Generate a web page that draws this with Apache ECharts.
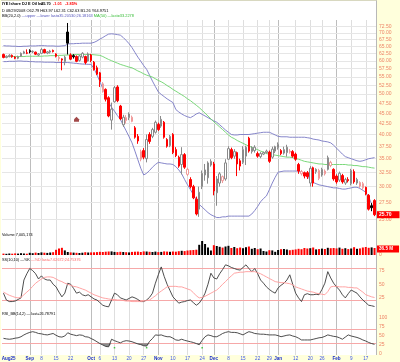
<!DOCTYPE html>
<html><head><meta charset="utf-8">
<script src="https://cdn.jsdelivr.net/npm/echarts@6/dist/echarts.min.js"></script>
<style>
html,body{margin:0;padding:0;background:#ffffdc;}
#bg{position:absolute;left:1px;top:0;width:376px;height:355px;background:#fff;border-right:1px solid #b8b8b8;border-top:1px solid #d8d8c0;box-sizing:border-box;}
#c{position:absolute;left:0;top:0;width:400px;height:362px;}
</style>
</head><body><div id="bg"></div><div id="c"></div>
<script>
const dates = ['8/19','8/20','8/21','8/22','8/25','8/26','8/27','8/28','8/29',
'9/2','9/3','9/4','9/5','9/8','9/9','9/10','9/11','9/12','9/15','9/16','9/17','9/18','9/19','9/22','9/23','9/24','9/25','9/26','9/29','9/30',
'10/1','10/2','10/3','10/6','10/7','10/8','10/9','10/10','10/13','10/14','10/15','10/16','10/17','10/20','10/21','10/22','10/23','10/24','10/27','10/28','10/29','10/30','10/31',
'11/3','11/4','11/5','11/6','11/7','11/10','11/11','11/12','11/13','11/14','11/17','11/18','11/19','11/20','11/21','11/24','11/25','11/26','11/28',
'12/1','12/2','12/3','12/4','12/5','12/8','12/9','12/10','12/11','12/12','12/15','12/16','12/17','12/18','12/19','12/22','12/23','12/24','12/26','12/29','12/30','12/31',
'1/2','1/5','1/6','1/7','1/8','1/9','1/12','1/13','1/14','1/15','1/16','1/20','1/21','1/22','1/23','1/26','1/27','1/28','1/29','1/30',
'2/2','2/3','2/4','2/5','2/6','2/9','2/10','2/11','2/12','2/13','2/17','2/18','2/19','2/20'];

const open = [62.2,61.2,61.5,61.9,61.3,60.9,61.6,62.6,62.79,
63.5,63.1,63.0,62.0,62.6,63.9,62.7,63.0,63.6,62.4,60.8,60.7,59.8,70.4,62.0,61.8,61.5,60.2,61.3,61.5,60.0,
62.0,59.6,57.8,56.2,50.9,51.3,49.0,43.3,47.9,52.0,46.8,42.2,43.2,43.9,43.0,41.5,39.6,34.9,36.6,35.0,40.0,39.6,40.5,
42.3,41.9,42.8,38.9,37.6,40.0,36.8,35.3,33.9,35.8,32.1,31.2,30.0,28.0,26.5,30.0,32.0,31.5,33.8,
34.0,29.0,30.6,31.0,31.3,34.9,36.8,35.5,36.2,34.6,34.3,35.5,39.2,36.4,36.6,36.0,35.4,35.9,36.2,36.3,35.3,36.5,
37.2,36.6,36.1,36.2,36.3,36.4,35.9,33.9,32.2,32.4,32.4,30.6,33.3,32.6,31.4,32.0,32.2,33.0,33.7,33.0,
31.8,31.1,31.9,30.6,31.2,30.5,32.6,30.6,30.1,29.8,29.9,28.6,27.0,27.8];

const high = [62.5,61.9,62.3,62.2,61.6,61.8,62.9,63.5,63.97,
64.0,63.6,63.2,62.7,64.4,64.2,63.4,63.8,63.9,62.6,61.7,60.9,61.8,74.0,62.6,62.3,61.9,62.1,63.0,61.8,62.9,
62.4,60.0,58.5,56.5,53.4,51.6,49.4,47.7,52.3,52.5,47.1,44.6,44.5,45.2,44.4,41.9,40.1,36.8,37.1,40.0,40.5,41.5,43.2,
42.7,44.3,43.1,39.2,39.9,40.3,37.3,35.6,37.3,36.1,33.3,31.6,30.3,28.4,30.0,32.8,34.0,34.5,34.9,
34.4,31.8,32.5,31.9,34.9,37.5,37.2,36.9,36.4,35.0,37.5,37.6,39.5,37.5,37.7,36.4,36.3,36.4,36.8,36.6,37.4,37.6,
38.3,36.9,37.4,37.8,36.9,36.7,36.2,34.2,32.9,32.6,32.7,33.6,33.5,33.2,33.1,33.3,33.0,35.6,34.6,33.2,
32.1,32.6,32.2,31.5,31.6,33.1,33.0,31.5,30.9,30.8,30.0,28.8,27.4,28.0];

const low = [60.9,60.9,61.2,61.1,60.6,60.6,61.4,62.3,62.31,
62.6,62.7,62.0,61.6,62.4,62.6,62.3,62.5,62.9,61.2,59.9,57.0,58.6,62.2,60.3,60.8,59.6,59.8,60.9,58.9,59.8,
59.6,56.9,55.5,52.0,50.4,48.0,44.0,41.1,47.7,47.8,43.3,41.7,42.5,43.3,42.8,39.1,38.0,34.5,34.9,34.3,38.0,39.2,40.2,
40.8,41.5,39.1,37.2,37.3,35.9,35.3,33.3,32.1,33.1,31.8,29.7,28.0,25.6,25.4,29.6,31.0,30.5,33.5,
28.6,27.0,30.0,30.6,31.0,34.8,34.9,35.0,31.8,32.8,34.0,33.8,36.2,36.0,36.2,35.2,35.1,35.7,36.0,34.2,35.0,36.1,
36.8,35.7,35.8,35.4,36.0,35.2,34.6,32.2,31.9,31.4,31.3,30.0,30.0,32.2,31.1,31.7,31.9,32.8,33.4,31.0,
30.5,30.8,30.5,30.3,30.7,30.2,30.5,30.3,29.8,29.5,28.6,26.3,26.2,25.5];

const close = [61.2,61.6,61.9,61.4,60.9,61.5,62.6,63.1,62.63,
63.2,63.3,62.3,62.4,63.9,62.8,63.1,63.4,63.2,61.6,61.2,60.3,61.3,66.2,60.6,61.4,59.9,61.7,62.6,59.5,62.4,
60.2,57.2,55.8,53.6,52.9,48.6,44.3,46.0,51.8,48.2,43.6,44.0,43.9,44.8,44.0,39.4,38.6,36.4,35.3,38.9,38.5,41.1,42.8,
41.1,43.5,39.4,37.5,39.6,36.2,35.6,33.6,35.8,33.4,33.0,30.0,28.2,25.8,29.1,32.3,32.9,34.2,34.5,
29.3,31.3,32.2,31.7,34.2,37.0,35.2,36.4,34.0,33.6,36.8,37.3,36.5,37.1,37.3,35.5,36.0,36.2,36.5,34.5,36.9,37.4,
37.9,36.0,36.8,37.3,36.5,35.5,34.9,32.7,32.6,31.8,31.7,33.2,30.6,33.0,32.8,33.0,32.7,35.2,34.3,31.3,
30.8,32.3,30.8,31.2,31.0,32.8,30.8,31.2,30.7,30.5,28.8,26.5,26.71,25.70];

const bbUpper = [65.3,65.2,65.2,65.1,65.1,65.0,65.0,65.1,65.1,65.2,65.2,65.2,65.3,
65.3,65.3,65.2,65.2,65.2,65.1,65.1,65.2,65.3,
65.9,66.0,66.0,66.1,66.1,66.2,66.2,66.2,
66.2,66.5,67.0,67.7, 68.3,69.0,69.6, 69.7,69.6,69.4,69.2, 68.3,67.2,66.0,64.6,
62.9,61.3,59.9,58.5,57.3, 55.5,53.7,52.1,50.6, 49.9,49.3,48.7,48.2,47.7,
45.9,45.3,44.8,44.4,44.1,43.9, 44.3,44.8,45.1, 44.7,44.3,43.9,43.5,43.1,42.8,
42.2,41.6,41.0,40.5,40.0, 39.9,39.9,40.0,40.0,40.0,40.0, 40.1,40.2,40.3,40.4,40.5,40.5,40.5,
40.2,39.9,39.6, 39.5,39.5,39.5,39.4,39.4,39.4,39.4,39.4,39.4,
39.3,39.2,39.0,38.9,38.8,38.6,38.5,38.4,38.2, 37.7,37.1,36.5,35.9,35.4,
35.2,35.0,34.8,34.6,34.5, 34.6,34.8,35.0,35.1,35.21];

const bbLower = [59.8,59.8,59.9,59.9,59.9,60.0,60.0,59.9,59.9,59.8,59.8,59.7,59.7,
59.7,59.6,59.6,59.6,59.6,59.5,59.5,59.5,59.5,
59.5,59.4,59.3,59.2,59.1,59.0,59.0,58.9,
58.9,57.5,55.6,53.6, 51.5,49.6,47.7, 46.5,45.5,44.4,43.5, 42.1,40.8,39.5,38.2,
36.5,34.8,33.2,32.0,32.3, 32.8,33.4,33.9,34.3, 34.2,34.1,34.0,34.0,33.9,
33.5,32.9,32.2,31.2,30.3,29.5, 28.7,27.9,27.2, 26.8,26.4,26.0,25.7,25.5,25.3,
25.3,25.4,25.4,25.5,25.5, 25.5,25.5,25.5,25.5,25.5,25.5, 25.8,26.3,26.9,27.6,28.1,28.5,29.5,
30.6,31.6,32.5, 32.6,32.7,32.7,32.7,32.7,32.7,32.7,32.5,32.2,
31.7,31.2,30.7,30.5,30.3,30.2,30.1,30.0,29.9, 29.8,29.8,29.7,29.6,29.6,
29.7,29.8,29.9,29.9,29.7, 29.4,29.1,28.3,27.3,26.18];

const ma50 = [61.4,61.4,61.5,61.5,61.5,61.5,61.5,61.5,61.6,61.6,61.6,61.6,61.6,
61.6,61.7,61.7,61.8,61.8,61.8,61.9,61.9,62.0,
62.0,62.1,62.1,62.2,62.2,62.2,62.2,62.2,
62.2,62.1,62.0,61.9, 61.5,61.0,60.5, 60.1,59.7,59.3,58.9, 58.6,58.3,58.0,57.8,
57.3,56.8,56.4,55.9,55.5, 55.2,54.9,54.4,53.9, 53.5,53.0,52.4,51.9,51.3,
50.8,50.3,49.8,49.3,48.7,48.2, 47.6,47.0,46.4, 45.7,45.0,44.3,43.6,42.9,42.3,
41.7,41.1,40.5,39.9,39.4, 39.1,38.7,38.4,38.1,37.8,37.5, 37.3,37.0,36.8,36.5,36.3,36.0,35.9,
35.8,35.7,35.6, 35.5,35.4,35.3,35.3,35.2,35.0,34.9,34.7,34.5,
34.4,34.3,34.2,34.1,34.0,34.0,33.9,33.9,33.9, 33.9,33.9,33.9,33.9,33.9,
33.8,33.8,33.7,33.7,33.6, 33.5,33.5,33.4,33.3,33.23];

const volumeM = [1.4,1.2,1.5,1.3,1.6,1.4,1.8,1.5,1.3,
2.2,1.8,2.4,2.0,2.6,2.3,2.1,2.5,2.8,5.2,6.5,7.2,4.6,
3.0,2.6,2.4,2.2,2.0,2.3,2.8,2.5,
2.6,2.7,2.9,3.2,3.0,3.3,3.5,3.6,3.1,2.9,3.2,
3.0,2.8,2.6,3.1,3.3,3.4,3.0,3.6,3.5,3.2,3.0,3.4,
2.9,3.1,3.6,3.4,3.2,3.5,3.3,3.8,4.2,3.9,4.5,4.8,5.0,5.3,
10.2,14.0,11.0,7.5,
4.5,9.8,9.0,8.2,7.4,8.5,9.2,7.0,8.0,6.8,
7.5,6.8,7.8,8.5,6.2,7.0,5.8,6.5,4.0,3.5,
4.8,4.6,3.2,5.0,5.8,6.0,5.5,4.8,5.2,5.6,
6.2,5.8,7.0,6.5,6.8,7.5,5.6,5.9,6.4,6.0,
7.2,6.8,7.0,6.6,7.4,6.2,6.8,5.9,6.5,7.8,
6.2,6.6,7.5,8.0,7.2,7.6,7.0];

const stochK = [33,20,17,17,18,21,24,58,70,80,76,70,60,66,60,58,58,50,45,35,26,33,52,50,42,33,35,30,28,30,
26,22,20,15,10,8,7,20,33,30,24,22,20,23,26,24,21,17,17,20,25,33,52,
68,83,65,50,38,26,20,14,16,17,19,20,15,10,14,22,33,50,71,
62,60,70,78,87,85,82,80,78,77,82,87,80,74,80,70,58,52,45,40,36,33,
43,48,52,58,68,50,33,24,17,30,32,30,30,31,30,40,52,74,62,52,
45,39,30,24,32,39,36,33,26,20,15,10,9,7.63];

const stochD = [35,32,29,27,25,24,25,30,35,40,46,52,56,60,63,64,64,63,60,57,55,52,50,48,46,45,43,41,39,36,
33,30,28,26,24,23,22,21,21,20,20,19,18,18,17,17,17,17,18,19,20,24,28,
33,37,41,45,46,46,46,45,45,43,41,39,34,28,24,25,27,30,33,
36,39,44,50,55,61,66,71,72,73,73,74,74,74,74,72,70,67,64,61,58,55,
54,53,53,52,51,49,45,43,41,39,37,36,35,33,32,31,30,36,45,46,
46,45,45,45,44,44,43,43,39,35,30,28,26,24.75];

const rsi = [43.5,42,41,42,44,45,48,53,57,60,62,60,57,56,54,53,55,57,52,48,47,50,59,55,53,51,53,52,48,47,
43,39,34,29,25,21,20,41,37,34,31,35,37,36,34,31,28,26,23,22,35,43,53,
52,53,50,48,48,44,39,38,41,38,36,34,32,29,26,38,48,53,51,
48,48,52,57,60,62,60,60,59,56,53,58,62,60,57,56,55,55,54,53,53,53,
51,48,50,52,53,50,48,44,39,39,39,39,41,43,45,46,49,53,51,49,
48,45,41,47,53,50,48,46,43,39,36,32,29,26.8];

const markerPoints = [['9/24', 43.5]];
const rsiSignals = [['10/13', 17.5], ['10/28', 17.5], ['11/24', 17.5]];

const tickDates = ['8/25','9/2','9/8','9/15','9/22','10/1','10/6','10/13','10/20','10/27','11/3','11/10','11/17','11/24','12/1','12/8','12/15','12/22','12/29','1/2','1/12','1/20','1/26','2/2','2/9','2/17'];
const tickLabels = ['Aug25','Sep','8','15','22','Oct','6','13','20','27','Nov','10','17','24','Dec','8','15','22','29','Jan','12','20','26','Feb','9','17'];
const monthTicks = ['9/2','10/1','11/3','12/1','1/2','2/2'];
const priceTicks = [25,27.5,30,32.5,35,37.5,40,42.5,45,47.5,50,52.5,55,57.5,60,62.5,65,67.5,70,72.5];
const ssTicks = [25,50,75];
const ssLines = [80,20];
const rsiTicks = [0,25,50,75,100];
const rsiLines = [70,30];
const rsiOversold = 30;

const FONT = 'Liberation Sans';
const LBL = '#ee8466';
const chart = echarts.init(document.getElementById('c'));
const N = dates.length;
const isRed = close.map((c, i) => i > 0 ? c < close[i - 1] : c < open[i]);
const candleData = dates.map((d, i) => {
  const hollow = close[i] >= open[i];
  const c = isRed[i] ? (hollow ? '#f09a9a' : '#ff0000') : (hollow ? '#8a8a8a' : '#000000');
  const fill = hollow ? '#ffffff' : c;
  return {value: [open[i], close[i], low[i], high[i]],
    itemStyle: {color: fill, color0: fill, borderColor: c, borderColor0: c, borderWidth: 1}};
});
const volData = volumeM.map((v, i) => ({value: v, itemStyle: {color: isRed[i] ? '#ff0000' : '#000000'}}));
const rsiFloor = rsi.map(v => Math.min(v, rsiOversold));
const rsiGap = rsiFloor.map(v => rsiOversold - v);

const vLines = () => tickDates.map(d => ({xAxis: d,
  lineStyle: {color: monthTicks.includes(d) ? '#bdbdbd' : '#dedede', width: 1, type: 'solid'}, label: {show: false}}));
const hLabel = (v, txt, color) => ({yAxis: v, lineStyle: {color: color || 'rgba(0,0,0,0)', width: 1, type: 'solid'},
  label: {show: true, position: 'end', formatter: txt, color: LBL, fontSize: 5, fontFamily: FONT, distance: 3}});
const ml = (data) => ({silent: true, symbol: ['none', 'none'], animation: false, z: 1,
  lineStyle: {type: 'solid', width: 1}, label: {show: false}, data: data});

const grids = [
  {left: 2, top: 20, width: 374, height: 211},
  {left: 2, top: 231, width: 374, height: 24},
  {left: 2, top: 255, width: 374, height: 57},
  {left: 2, top: 312, width: 374, height: 43}
].map(g => Object.assign({show: false, outerBoundsMode: 'none', containLabel: false}, g));

const xAxes = [0, 1, 2, 3].map(k => ({
  type: 'category', gridIndex: k, data: dates, boundaryGap: true,
  axisLine: {show: false}, axisTick: {show: false}, splitLine: {show: false},
  axisLabel: k < 3 ? {show: false} : {
    show: true, margin: 1, fontFamily: FONT, fontSize: 4.6,
    interval: (idx, val) => tickDates.includes(val),
    formatter: (val) => {
      const k2 = tickDates.indexOf(val);
      const t = tickLabels[k2];
      if (k2 === 0) return '{a|' + t + '}';
      if (monthTicks.includes(val)) return '{m|' + t + '}';
      return '{d|' + t + '}';
    },
    rich: {
      a: {fontWeight: 'bold', color: '#1a2fc8', fontSize: 4.6, fontFamily: FONT, padding: [0, 13, 0, 0]},
      m: {fontWeight: 'bold', color: '#1a2fc8', fontSize: 4.6, fontFamily: FONT},
      d: {color: '#3a55e8', fontSize: 4.6, fontFamily: FONT}
    }
  }
}));

const hideY = {axisLine: {show: false}, axisTick: {show: false}, axisLabel: {show: false}, splitLine: {show: false}};
const yAxes = [
  Object.assign({type: 'log', logBase: 10, gridIndex: 0, min: 23.49, max: 75.23}, hideY),
  Object.assign({type: 'value', gridIndex: 1, min: 0, max: 24}, hideY),
  Object.assign({type: 'value', gridIndex: 2, min: -2.86, max: 105.7}, hideY),
  Object.assign({type: 'value', gridIndex: 3, min: -2.78, max: 116.67}, hideY)
];

const priceMarks = vLines().concat(priceTicks.map(v => hLabel(v, v.toFixed(2), '#e6e6e6')));
priceMarks.push({yAxis: close[N - 1], lineStyle: {color: 'rgba(0,0,0,0)'},
  label: {show: true, position: 'end', formatter: close[N - 1].toFixed(2), color: '#ffffff', fontWeight: 'bold',
    fontSize: 5, fontFamily: FONT, backgroundColor: '#ff0000', padding: [1, 8, 1, 2], distance: 1}});

const ssMarks = vLines().concat(ssLines.map(v => ({yAxis: v, lineStyle: {color: '#f6a8a8', width: 1, type: 'solid'}, label: {show: false}})))
  .concat(ssTicks.map(v => hLabel(v, String(v))));
const rsiMarks = vLines().concat(rsiLines.map(v => ({yAxis: v, lineStyle: {color: '#f6a8a8', width: 1, type: 'solid'}, label: {show: false}})))
  .concat(rsiTicks.map(v => hLabel(v, String(v))));
const volMarks = vLines().concat([hLabel(0, '0')]);

const lineS = (name, data, color, xi, w) => ({type: 'line', name: name, xAxisIndex: xi, yAxisIndex: xi, data: data,
  showSymbol: false, symbol: 'none', lineStyle: {color: color, width: w || 0.9}, z: 3, silent: true, animation: false});

const txt = (x, y, text, rich, size) => ({type: 'text', x: x, y: y, z: 100, silent: true,
  style: {text: text, fontSize: size || 3.8, fontFamily: FONT, fill: '#000', rich: rich || {}}});

const option = {
  animation: false,
  textStyle: {fontFamily: FONT},
  grid: grids, xAxis: xAxes, yAxis: yAxes,
  series: [
    {type: 'candlestick', name: 'price', xAxisIndex: 0, yAxisIndex: 0, data: candleData, barWidth: 2, z: 4,
      silent: true, markLine: ml(priceMarks)},
    lineS('bbU', bbUpper, '#7878c4', 0),
    lineS('bbL', bbLower, '#7878c4', 0),
    lineS('ma50', ma50, '#6cd46c', 0),
    {type: 'scatter', xAxisIndex: 0, yAxisIndex: 0, data: markerPoints, symbol: 'path://M0,4L4,0L8,4L8,8L0,8Z',
      symbolSize: 5, itemStyle: {color: '#8b1c1c'}, z: 5, silent: true},
    {type: 'bar', name: 'vol', xAxisIndex: 1, yAxisIndex: 1, data: volData, barWidth: 2, z: 3, silent: true,
      markLine: ml(volMarks)},
    Object.assign(lineS('K', stochK, '#3a3a3a', 2), {markLine: ml(ssMarks)}),
    lineS('D', stochD, '#ff9a9a', 2),
    {type: 'line', xAxisIndex: 3, yAxisIndex: 3, data: rsiFloor, stack: 'rsiFill', showSymbol: false, symbol: 'none',
      lineStyle: {width: 0, opacity: 0}, z: 2, silent: true},
    {type: 'line', xAxisIndex: 3, yAxisIndex: 3, data: rsiGap, stack: 'rsiFill', showSymbol: false, symbol: 'none',
      lineStyle: {width: 0, opacity: 0}, areaStyle: {color: '#8c8c8c', opacity: 1}, z: 2, silent: true},
    Object.assign(lineS('RSI', rsi, '#3a3a3a', 3), {markLine: ml(rsiMarks)}),
    {type: 'scatter', xAxisIndex: 3, yAxisIndex: 3, data: rsiSignals, symbol: 'rect', symbolSize: [1.5, 1.5],
      itemStyle: {color: '#22bb22'}, z: 5, silent: true}
  ],
  graphic: [
    txt(2, 1.5, '{b|IYE Ishare DJ E Oil Inc}', {b: {fontWeight: 'bold', fontSize: 3.9, fontFamily: FONT, fill: '#000'}}),
    txt(41, 1.5, '{b|25.70}', {b: {fontWeight: 'bold', fontSize: 3.9, fontFamily: FONT, fill: '#000'}}),
    txt(53, 1.5, '{r|-1.01}', {r: {fontWeight: 'bold', fontSize: 3.9, fontFamily: FONT, fill: '#ff0000'}}),
    txt(65, 1.5, '{r|-3.85%}', {r: {fontWeight: 'bold', fontSize: 3.9, fontFamily: FONT, fill: '#ff0000'}}),
    txt(2, 9, 'D 08/29/2008 O62.79 H63.97 L62.31 C62.63 B1.26 Y64.9751', null, 3.9),
    txt(2, 14, '{k|BB(20,2.0)} {u|\u2014upper \u2014lower last=35.20530;26.18163} {g|MA(50) \u2014last=33.2278}', {
      k: {fontSize: 3.9, fontFamily: FONT, fill: '#000'},
      u: {fontSize: 3.9, fontFamily: FONT, fill: '#5555bb'},
      g: {fontSize: 3.9, fontFamily: FONT, fill: '#33bb33'}
    }),
    txt(2, 233, 'Volume 7,005,174', null, 3.8),
    txt(2, 258, '{k|SS(10,10) \u2014%K} {p|\u2014%D last=7.62672;24.75376}', {
      k: {fontSize: 3.8, fontFamily: FONT, fill: '#000'},
      p: {fontSize: 3.8, fontFamily: FONT, fill: '#ff6666'}
    }),
    txt(2, 311.5, 'RSI_BB(14,2) \u2014 last=26.78791', null, 3.8),
    {type: 'text', x: 377, y: 245.5, z: 100, silent: true,
      style: {text: '36.5 M', fontSize: 4.6, fontWeight: 'bold', fontFamily: FONT, fill: '#fff',
        backgroundColor: '#ff0000', padding: [1, 6, 1, 2]}}
  ]
};
chart.setOption(option);
</script>
</body></html>
